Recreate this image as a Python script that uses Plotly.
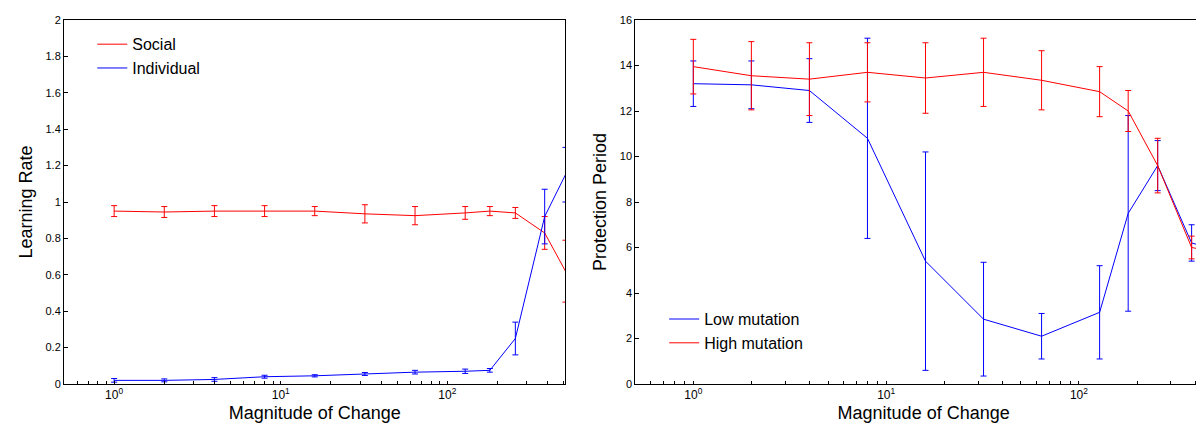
import plotly.graph_objects as go

x = [1, 2, 4, 8, 16, 32, 64, 128, 180, 256, 384, 512]

social = [0.95, 0.945, 0.95, 0.95, 0.95, 0.935, 0.925, 0.94, 0.95, 0.94, 0.83, 0.62]
social_err = [0.03, 0.03, 0.03, 0.03, 0.025, 0.05, 0.05, 0.035, 0.025, 0.03, 0.09, 0.17]
indiv = [0.02, 0.02, 0.025, 0.04, 0.045, 0.055, 0.065, 0.07, 0.075, 0.25, 0.92, 1.15]
indiv_err = [0.01, 0.008, 0.01, 0.008, 0.006, 0.008, 0.01, 0.012, 0.01, 0.09, 0.15, 0.15]

high = [13.95, 13.55, 13.4, 13.7, 13.45, 13.7, 13.35, 12.85, 12.0, 9.6, 6.0, 5.8]
high_err = [1.2, 1.5, 1.6, 1.3, 1.55, 1.5, 1.3, 1.1, 0.9, 1.2, 0.5, 1.0]
low = [13.2, 13.15, 12.9, 10.8, 5.4, 2.85, 2.1, 3.15, 7.5, 9.6, 6.2, 5.9]
low_err = [1.0, 1.05, 1.4, 4.4, 4.8, 2.5, 1.0, 2.05, 4.3, 1.1, 0.8, 1.0]

fig = go.Figure()

def add(y, e, color, name, xa, ya, leg):
    fig.add_trace(go.Scatter(
        x=x, y=y, mode="lines", name=name, line=dict(color=color, width=1),
        error_y=dict(type="data", array=e, color=color, thickness=1, width=3),
        xaxis=xa, yaxis=ya, legend=leg))

add(social, social_err, "red", "Social", "x", "y", "legend")
add(indiv, indiv_err, "blue", "Individual", "x", "y", "legend")
add(low, low_err, "blue", "Low mutation", "x2", "y2", "legend2")
add(high, high_err, "red", "High mutation", "x2", "y2", "legend2")

# log tick positions: labels only at decades
tv, tt = [], []
for d in [0.1, 1, 10, 100]:
    for m in range(1, 10):
        tv.append(d * m)
        tt.append({1: "10<sup>0</sup>", 10: "10<sup>1</sup>", 100: "10<sup>2</sup>"}.get(d, "") if m == 1 else "")

ax = dict(type="log", showline=True, linecolor="black", mirror=True, showgrid=False,
          ticks="inside", ticklen=3, zeroline=False, tickcolor="black",
          tickvals=tv, ticktext=tt, tickfont=dict(size=12),
          title=dict(text="Magnitude of Change", font=dict(size=18), standoff=4))
ay = dict(showline=True, linecolor="black", mirror=True, showgrid=False, zeroline=False,
          ticks="inside", ticklen=4, tickcolor="black", tickfont=dict(size=11))

fig.update_layout(
    width=1204, height=431, plot_bgcolor="white", paper_bgcolor="white",
    margin=dict(l=0, r=0, t=12, b=55),
    font=dict(family="Liberation Sans", size=12, color="black"),
    xaxis=dict(ax, domain=[0.0465, 0.463], range=[-0.301, 2.709]),
    xaxis2=dict(ax, domain=[0.521, 1.0], range=[-0.301, 2.69]),
    yaxis=dict(ay, range=[0, 2], dtick=0.2, anchor="x",
               title=dict(text="Learning Rate", font=dict(size=18), standoff=8)),
    yaxis2=dict(ay, range=[0, 16], dtick=2, anchor="x2",
                title=dict(text="Protection Period", font=dict(size=18), standoff=8)),
    legend=dict(x=0.07, y=0.98, xanchor="left", yanchor="top", bgcolor="rgba(0,0,0,0)",
                font=dict(size=16), tracegroupgap=0),
    legend2=dict(x=0.545, y=0.225, xanchor="left", yanchor="top", bgcolor="rgba(0,0,0,0)",
                 font=dict(size=16)),
)

fig.write_html("out.html")
